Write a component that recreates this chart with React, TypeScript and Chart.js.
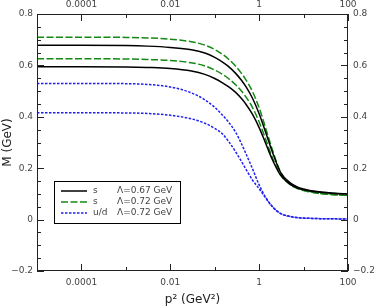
import React, { useEffect, useRef } from 'react';
import { Chart, registerables } from 'chart.js';

Chart.register(...registerables);

// p^2 grid (GeV^2)
const pSquared = [1e-5, 1e-4, 1e-3, 0.003, 0.01, 0.03, 0.06, 0.1, 0.15, 0.2, 0.3, 0.4, 0.5, 0.7, 1, 1.4, 2, 3, 5, 7, 10, 20, 50, 100];

// s quark, Lambda = 0.67 GeV (black solid)
const sLam067Upper = [0.678, 0.678, 0.677, 0.675, 0.670, 0.661, 0.648, 0.631, 0.613, 0.597, 0.568, 0.542, 0.518, 0.474, 0.412, 0.340, 0.262, 0.185, 0.143, 0.128, 0.119, 0.109, 0.103, 0.100];
const sLam067Lower = [0.595, 0.595, 0.594, 0.592, 0.588, 0.578, 0.565, 0.549, 0.532, 0.518, 0.494, 0.471, 0.450, 0.411, 0.358, 0.297, 0.232, 0.174, 0.137, 0.124, 0.116, 0.107, 0.102, 0.100];

// s quark, Lambda = 0.72 GeV (green dashed)
const sLam072Upper = [0.710, 0.710, 0.709, 0.707, 0.702, 0.692, 0.679, 0.662, 0.643, 0.626, 0.596, 0.569, 0.545, 0.500, 0.435, 0.356, 0.270, 0.187, 0.140, 0.124, 0.114, 0.103, 0.097, 0.094];
const sLam072Lower = [0.626, 0.626, 0.625, 0.623, 0.619, 0.610, 0.598, 0.582, 0.565, 0.550, 0.524, 0.500, 0.478, 0.438, 0.380, 0.313, 0.240, 0.175, 0.136, 0.122, 0.113, 0.103, 0.097, 0.094];

// u/d quark, Lambda = 0.72 GeV (blue dotted)
const udLam072Upper = [0.530, 0.530, 0.529, 0.526, 0.516, 0.493, 0.466, 0.437, 0.406, 0.382, 0.338, 0.295, 0.258, 0.200, 0.135, 0.087, 0.050, 0.024, 0.012, 0.008, 0.006, 0.004, 0.003, 0.002];
const udLam072Lower = [0.416, 0.416, 0.415, 0.413, 0.406, 0.392, 0.375, 0.355, 0.333, 0.307, 0.262, 0.226, 0.197, 0.155, 0.120, 0.084, 0.050, 0.024, 0.012, 0.008, 0.006, 0.004, 0.003, 0.002];

// axes
const xMajorTicks = [1e-4, 1e-2, 1, 100];
const xTickLabels = ['0.0001', '0.01', '1', '100'];
const xMinorTicks = [1e-3, 0.1, 10];
const yMajorTicks = [-0.2, 0, 0.2, 0.4, 0.6, 0.8];
const yTickLabels = ['\u22120.2', '0', '0.2', '0.4', '0.6', '0.8'];
const yMinorTicks = [-0.15, -0.1, -0.05, 0.05, 0.1, 0.15, 0.25, 0.3, 0.35, 0.45, 0.5, 0.55, 0.65, 0.7, 0.75];

// legend
const legendFlavors = ['s', 's', 'u/d'];
const legendCutoffs = ['\u039b=0.67 GeV', '\u039b=0.72 GeV', '\u039b=0.72 GeV'];

const FONT = '"DejaVu Sans", sans-serif';
const TEXT = '#444';

const BLACK = '#000000';
const GREEN = '#138a13';
const BLUE = '#1f1ff0';

function pts(ys: number[]) {
  return pSquared.map((x, i) => ({ x, y: ys[i] }));
}

const frameTicksLegend = {
  id: 'frameTicksLegend',
  afterDraw(chart: any) {
    const { ctx, chartArea } = chart;
    const { left, right, top, bottom } = chartArea;
    const xs = chart.scales.x;
    const ys = chart.scales.y;
    ctx.save();
    ctx.strokeStyle = '#222';
    ctx.lineWidth = 1;
    ctx.strokeRect(left + 0.5, top + 0.5, right - left - 1, bottom - top - 1);
    ctx.beginPath();
    const xt = (vals: number[], len: number) => {
      vals.forEach((v) => {
        const p = Math.round(xs.getPixelForValue(v)) + 0.5;
        ctx.moveTo(p, bottom);
        ctx.lineTo(p, bottom - len);
        ctx.moveTo(p, top);
        ctx.lineTo(p, top + len);
      });
    };
    const yt = (vals: number[], len: number) => {
      vals.forEach((v) => {
        const p = Math.round(ys.getPixelForValue(v)) + 0.5;
        ctx.moveTo(left, p);
        ctx.lineTo(left + len, p);
        ctx.moveTo(right, p);
        ctx.lineTo(right - len, p);
      });
    };
    xt(xMajorTicks, 7);
    xt(xMinorTicks, 4);
    yt(yMajorTicks, 7);
    yt(yMinorTicks, 4);
    ctx.stroke();

    // legend box
    const bx = 54.5, by = 181.5, bw = 126, bh = 42;
    ctx.fillStyle = '#fff';
    ctx.fillRect(bx, by, bw, bh);
    ctx.strokeStyle = '#000';
    ctx.lineWidth = 1;
    ctx.strokeRect(bx, by, bw, bh);
    const dsIdx = [0, 2, 4];
    ctx.font = `9px ${FONT}`;
    ctx.textBaseline = 'middle';
    dsIdx.forEach((di, r) => {
      const ds = chart.data.datasets[di];
      const yy = 191 + r * 11;
      ctx.save();
      ctx.strokeStyle = ds.borderColor;
      ctx.lineWidth = ds.borderWidth;
      ctx.setLineDash(ds.borderDash || []);
      ctx.beginPath();
      ctx.moveTo(61, yy);
      ctx.lineTo(87, yy);
      ctx.stroke();
      ctx.restore();
      ctx.fillStyle = TEXT;
      ctx.textAlign = 'left';
      ctx.fillText(legendFlavors[r], 93, yy);
      ctx.fillText(legendCutoffs[r], 117, yy);
    });
    ctx.restore();
  },
};

export default function App() {
  const ref = useRef<HTMLCanvasElement>(null);
  useEffect(() => {
    if (!ref.current) return;
    const mk = (label: string, ys: number[], color: string, dash: number[]) => ({
      label,
      data: pts(ys),
      borderColor: color,
      backgroundColor: color,
      borderWidth: 1.5,
      borderDash: dash,
      pointRadius: 0,
      fill: false,
      cubicInterpolationMode: 'monotone' as const,
    });
    const tickFont = { family: FONT, size: 9 };
    const xAxis = (position: 'top' | 'bottom', h: number, pad: number, withTitle: boolean) => ({
      type: 'logarithmic' as const,
      position,
      min: 1e-5,
      max: 100,
      grid: { display: false, drawTicks: false },
      border: { display: false },
      afterBuildTicks: (s: any) => {
        s.ticks = xMajorTicks.map((v) => ({ value: v }));
      },
      afterFit: (s: any) => {
        s.height = h;
      },
      ticks: {
        autoSkip: false,
        maxRotation: 0,
        padding: pad,
        color: TEXT,
        font: tickFont,
        callback: (_v: any, i: number) => xTickLabels[i],
      },
      title: withTitle
        ? { display: true, text: 'p\u00b2 (GeV\u00b2)', color: '#222', font: { family: FONT, size: 12 }, padding: { top: 0, bottom: 0 } }
        : { display: false },
    });
    const yAxis = (position: 'left' | 'right', w: number, pad: number, withTitle: boolean) => ({
      type: 'linear' as const,
      position,
      min: -0.2,
      max: 0.8,
      grid: { display: false, drawTicks: false },
      border: { display: false },
      afterBuildTicks: (s: any) => {
        s.ticks = yMajorTicks.map((v) => ({ value: v }));
      },
      afterFit: (s: any) => {
        s.width = w;
      },
      ticks: {
        padding: pad,
        color: TEXT,
        font: tickFont,
        callback: (_v: any, i: number) => yTickLabels[i],
      },
      title: withTitle
        ? { display: true, text: 'M (GeV)', color: '#222', font: { family: FONT, size: 12 }, padding: { top: 1, bottom: 0 } }
        : { display: false },
    });
    const chart = new Chart(ref.current, {
      type: 'line',
      data: {
        datasets: [
          mk('s \u039b=0.67 GeV', sLam067Upper, BLACK, []),
          mk('s \u039b=0.67 GeV (2)', sLam067Lower, BLACK, []),
          mk('s \u039b=0.72 GeV', sLam072Upper, GREEN, [7, 2.5]),
          mk('s \u039b=0.72 GeV (2)', sLam072Lower, GREEN, [7, 2.5]),
          mk('u/d \u039b=0.72 GeV', udLam072Upper, BLUE, [2.5, 1.5]),
          mk('u/d \u039b=0.72 GeV (2)', udLam072Lower, BLUE, [2.5, 1.5]),
        ],
      },
      options: {
        animation: false,
        responsive: false,
        devicePixelRatio: 1,
        layout: { padding: 0 },
        plugins: { legend: { display: false }, tooltip: { enabled: false } },
        scales: {
          x: xAxis('bottom', 36, 6, true),
          xTop: xAxis('top', 14, 4, false),
          y: yAxis('left', 37, 4, true),
          yRight: yAxis('right', 26, 5, false),
        } as any,
      },
      plugins: [frameTicksLegend],
    });
    return () => chart.destroy();
  }, []);
  return (
    <div style={{ position: 'absolute', left: 0, top: 0, width: 374, height: 307, background: '#fff' }}>
      <canvas ref={ref} width={374} height={307} style={{ display: 'block', width: 374, height: 307 }} />
    </div>
  );
}
